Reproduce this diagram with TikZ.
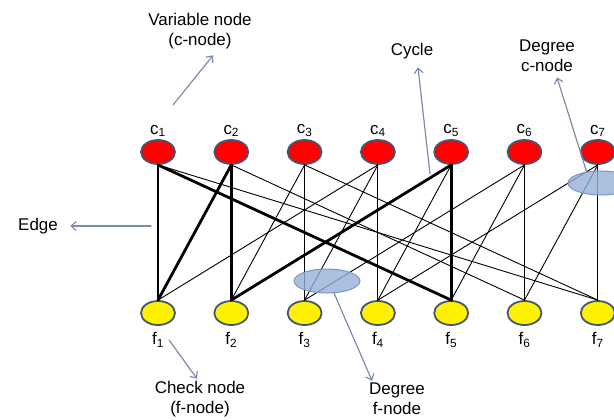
\documentclass[tikz,border=0pt]{standalone}
\usepackage{fontspec}
\setmainfont{Liberation Sans}
\usetikzlibrary{positioning,shapes.geometric,arrows.meta}
\definecolor{nodeborder}{RGB}{70,85,115}
\definecolor{arrowgray}{RGB}{125,140,170}
\definecolor{degfill}{RGB}{150,175,215}
\definecolor{degborder}{RGB}{120,150,200}
\begin{document}
\begin{tikzpicture}[x=1bp, y=-1bp, font=\fontsize{17}{20}\selectfont, line join=round, line cap=round, >={Straight Barb[length=5bp,width=9bp]},
	cnode/.style={ellipse, draw=nodeborder, line width=1.8bp, fill=red, minimum width=34bp, minimum height=24bp, inner sep=0pt},
	fnode/.style={cnode, fill=yellow},
	thinedge/.style={line width=0.9bp},
	thickedge/.style={line width=2.8bp},
	pointer/.style={->, draw=arrowgray, line width=1.2bp},
	degree/.style={ellipse, draw=degborder, line width=1bp, fill=degfill, fill opacity=0.8, minimum width=66bp, minimum height=24bp}]
	\useasboundingbox (0,0) rectangle (614,419);
	\def\xa{158} % x of c1 and f1
	\def\dx{73.3} % spacing
	\def\yc{152} % row of c-nodes
	\def\yf{313} % row of f-nodes
	
	\foreach \i in {1,...,7} {
		\node[cnode] (c\i) at ({\xa+(\i-1)*\dx},\yc) {};
		\node[fnode] (f\i) at ({\xa+(\i-1)*\dx},\yf) {};
		\node[above=-1bp of c\i] (lc\i) {c\textsubscript{\i}};
		\node[below=3bp of f\i] (lf\i) {f\textsubscript{\i}};
	}
	
	% edges of the graph
	\foreach \c/\f in {1/7,2/6,3/2,3/3,3/7,4/1,4/3,4/4,5/4,6/3,6/5,6/6,7/4,7/6,7/7}
		\draw[thinedge] (c\c.south) -- (f\f.north);
	% the cycle
	\foreach \c/\f in {1/1,1/5,2/1,2/2,5/2,5/5}
		\draw[thickedge] (c\c.south) -- (f\f.north);
	
	\node[degree] (degf) at (327,281) {};
	\node[degree] (degc) at (601,183) {};
	
	\node[align=center] (varlbl) at (200,31) {Variable node\\(c-node)};
	\node (cyclbl) at (412,51) {Cycle};
	\node[align=center] (degclbl) at (547,56) {Degree\\c-node};
	\node (edgelbl) at (38,226) {Edge};
	\node[align=center] (chklbl) at (200,399) {Check node\\(f-node)};
	\node[align=center] (degflbl) at (397,399) {Degree\\f-node};
	
	\coordinate (vtail) at (173,105);
	\coordinate (ytail) at (430,174);
	\coordinate (etail) at (151,226);
	\coordinate (ktail) at (169,340);
	\draw[pointer] (vtail) -- ([xshift=13bp,yshift=-3bp]varlbl.south);
	\draw[pointer] (ytail) -- ([xshift=6bp,yshift=-5bp]cyclbl.south);
	\draw[pointer] (degc.142) -- ([xshift=10bp,yshift=-2bp]degclbl.south);
	\draw[pointer, shorten >=9bp] (etail) -- (edgelbl.east);
	\draw[pointer] (ktail) -- ([xshift=-3bp,yshift=-1bp]chklbl.north);
	\draw[pointer] (degf.-60) -- ([xshift=-25bp,yshift=-1bp]degflbl.north);
\end{tikzpicture}
\end{document}
